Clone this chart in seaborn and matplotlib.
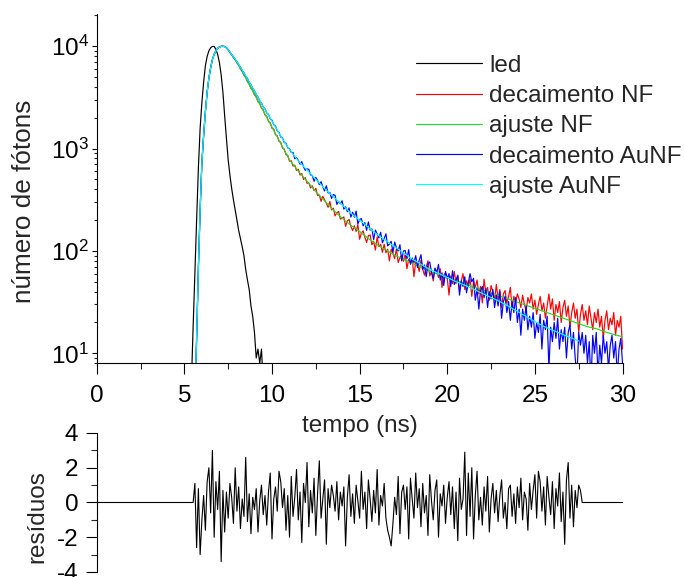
import numpy as np
import pandas as pd
import matplotlib
matplotlib.use("Agg")
import matplotlib.pyplot as plt
import seaborn as sns
from matplotlib.ticker import MultipleLocator, LogLocator, NullFormatter

# ---------------- data (photon counts, channel width 0.1 ns) ----------------
DT = 0.1
led_t0 = 5.4
led_counts = [5, 18, 60, 200, 646, 1585, 2820, 4470, 6460, 7940,
              9020, 9660, 9950, 9950, 9330, 8320, 6920, 5250, 3550, 2090,
              1260, 776, 550, 407, 316, 251, 200, 158, 132, 110,
              90, 66, 52, 42, 29, 23, 16, 9, 11, 8, 11, 5]

dec_t0 = 5.5
decay_nf = [2, 4, 15, 66, 256, 718,
            1372, 2263, 3590, 4862, 6230,
            7342, 8391, 8950, 9588, 9760,
            10052, 9934, 9958, 9602, 9311,
            8640, 8297, 7698, 7402, 6851,
            6523, 5968, 5689, 5187, 4958,
            4490, 4286, 3867, 3712, 3341,
            3202, 2871, 2768, 2473, 2391,
            2132, 2066, 1838, 1791, 1579,
            1548, 1368, 1335, 1174, 1152,
            1012, 990, 871, 858, 752,
            760, 675, 689, 611, 628,
            551, 571, 499, 520, 458,
            463, 412, 433, 388, 409,
            348, 352, 305, 342, 316,
            293, 267, 304, 252, 262,
            220, 236, 243, 205, 208,
            215, 174, 197, 203, 174,
            158, 176, 155, 180, 130,
            150, 157, 136, 121, 141,
            143, 115, 124, 102, 137,
            110, 116, 97, 116, 96,
            104, 80, 104, 95, 84,
            105, 77, 86, 91, 79,
            94, 67, 83, 76, 85,
            56, 80, 75, 63, 81,
            66, 58, 70, 80, 57,
            63, 51, 67, 63, 55,
            67, 44, 58, 61, 54,
            37, 57, 48, 63, 48,
            57, 41, 51, 60, 42,
            51, 45, 53, 36, 50,
            44, 52, 38, 45, 31,
            53, 39, 44, 33, 46,
            40, 33, 47, 34, 42,
            28, 38, 41, 31, 36,
            44, 27, 36, 31, 38,
            34, 28, 37, 30, 26,
            35, 31, 38, 27, 33,
            24, 30, 36, 26, 31,
            22, 29, 38, 27, 34,
            21, 30, 25, 32, 20,
            28, 33, 23, 29, 18,
            25, 31, 22, 27, 16,
            24, 30, 21, 26, 19,
            29, 22, 17, 25, 20,
            27, 18, 23, 14, 21,
            26, 17, 22, 19, 25,
            15, 21, 18, 23, 11]

decay_aunf = [2, 4, 13, 70, 247, 731,
              1338, 2312, 3521, 4930, 6140,
              7455, 8290, 9061, 9475, 9860,
              9945, 10038, 9880, 9702, 9190,
              8790, 8262, 7921, 7418, 7112,
              6598, 6268, 5790, 5513, 5096,
              4834, 4437, 4211, 3862, 3667,
              3361, 3195, 2921, 2784, 2547,
              2441, 2233, 2151, 1962, 1889,
              1717, 1651, 1488, 1438, 1296,
              1265, 1148, 1124, 1019, 996,
              917, 916, 796, 815, 765,
              704, 746, 662, 613, 634,
              626, 554, 545, 479, 523,
              488, 444, 475, 423, 385,
              433, 368, 373, 326, 356,
              349, 285, 305, 289, 309,
              256, 270, 241, 263, 214,
              239, 214, 245, 183, 203,
              207, 176, 189, 159, 192,
              160, 164, 129, 160, 146,
              134, 152, 120, 132, 147,
              112, 117, 124, 97, 122,
              107, 100, 115, 80, 100,
              101, 84, 103, 74, 85,
              77, 90, 69, 81, 92,
              66, 73, 56, 75, 78,
              62, 54, 68, 61, 74,
              52, 61, 46, 63, 54,
              60, 45, 64, 47, 52,
              58, 37, 51, 45, 56,
              39, 49, 60, 50, 54,
              33, 43, 27, 41, 45,
              35, 43, 28, 40, 34,
              42, 28, 37, 29, 40,
              22, 32, 36, 25, 32,
              21, 32, 25, 35, 20,
              27, 15, 27, 21, 29,
              17, 23, 18, 25, 14,
              20, 16, 24, 11, 21,
              17, 23, 7, 18, 13,
              20, 14, 22, 11, 17,
              13, 18, 9, 16, 19,
              11, 16, 9, 6, 16,
              12, 16, 10, 15, 8,
              13, 5, 15, 10, 16,
              6, 12, 8, 15, 10,
              13, 7, 12, 15, 9,
              13, 6, 11, 14, 8]

# fitted curves: rise sampled every 0.1 ns from 5.6, tail every 0.5 ns from 7.5
fit_rise_t0 = 5.6
fit_tail_t0 = 7.5
fit_tail_dt = 0.5
fit_rise = [4, 14, 68, 251, 724, 1350, 2290, 3550, 4900, 6170,
            7410, 8320, 9020, 9510, 9820, 9980, 10000, 9910, 9660]
fit_nf_tail = [9230, 6920, 4900, 3390, 2340, 1620, 1120, 776, 603, 479,
               380, 309, 251, 209, 178, 155, 132, 115, 102, 91,
               83, 76, 69, 63, 58.9, 55.0, 51.3, 47.9, 44.7, 41.7,
               38.9, 36.3, 33.9, 31.6, 29.5, 27.5, 25.7, 24.0, 22.4, 20.9,
               19.5, 18.2, 17.4, 16.2, 15.3, 14.5]
fit_aunf_tail = [9230, 7080, 5130, 3630, 2570, 1860, 1320, 977, 759, 617,
                 501, 407, 339, 282, 234, 200, 170, 145, 126, 110,
                 95.5, 83.2, 74.1, 66.1, 60.3, 55.0, 50.1, 46.2, 42.2, 38.5,
                 35.1, 32.0, 28.8, 25.7, 22.9, 20.4, 18.4, 16.8, 15.5, 14.3,
                 13.2]

res_t0 = 5.5
residuals = [0.0, 1.1, -2.6, 0.8, -3.0, -1.0, 0.4, -1.6, 1.2, 2.0,
             -0.6, 3.0, -2.0, 1.2, -0.4, 1.8, -3.4, 0.7, -1.7, 0.6,
             -0.9, 1.1, 0.3, -1.2, 2.0, -0.5, 0.9, -1.5, 0.2, -0.8,
             2.6, -1.1, 0.5, -1.8, 0.3, -0.4, 0.8, -1.7, 0.1, 1.0,
             -0.7, 0.4, -1.3, 0.6, 1.7, -2.1, 0.2, 0.9, -0.5, 1.8,
             1.2, -0.3, 0.8, -1.6, 0.4, -2.0, 1.5, -0.8, 0.3, 1.9,
             -1.0, 0.6, -2.3, 1.1, 0.0, 2.3, -1.4, 0.7, -0.6, 1.4,
             -1.9, 0.5, 2.4, -0.9, 0.2, 1.3, -2.4, 0.8, -0.3, 1.0,
             0.4, -0.5, 1.2, -1.0, 0.6, -0.2, 0.9, -2.5, 0.3, 1.6,
             -0.8, 0.5, -1.2, 1.0, 0.1, -0.9, 1.8, -0.4, 0.6, -1.5,
             1.3, 0.2, -1.1, 0.7, -0.6, 1.9, -1.3, 0.4, -0.2, 1.1,
             -0.9, -1.6, -2.0, -2.5, -1.2, 0.3, -0.7, 1.5, -1.8, 0.6,
             1.0, -0.4, 0.9, -2.1, 1.4, 0.2, -0.9, 1.7, -0.3, 0.8,
             -1.4, 1.1, -0.6, 0.4, -1.9, 1.6, 0.1, -1.0, 0.7, 1.3,
             -2.0, 0.5, -0.2, 1.0, -1.2, 0.3, 1.2, -0.7, 0.9, -1.5,
             0.6, -2.2, 1.4, -0.4, 0.2, 2.9, -1.9, 1.7, -0.8, 2.0,
             -2.1, 0.4, 1.8, -1.0, 0.3, -1.3, 0.9, -0.5, 1.5, -1.7,
             0.2, 1.1, -0.6, 0.7, -1.1, 0.4, 1.3, -0.9, 0.0, -1.5,
             0.8, 1.0, -0.8, 0.5, -1.2, 0.9, -0.3, 1.4, -1.0, 0.6,
             0.2, -1.6, 1.1, -0.4, 0.7, 1.6, -0.9, 1.8, 1.2, -0.5,
             0.9, -1.3, 1.5, 0.3, -0.7, 1.2, -1.5, 0.8, -0.2, 1.7,
             -1.1, 0.6, -2.4, 1.3, 2.3, -0.9, 1.0, -1.4, 0.7, -0.3,
             1.0, 0.7, 0.0]

labels = ["led", "decaimento NF", "ajuste NF", "decaimento AuNF", "ajuste AuNF"]
colors = ["#000000", "#FF0000", "#22DD22", "#0000FF", "#00FFFF"]

# ---------------- build tables ----------------
def times(t0, step, n):
    return t0 + step * np.arange(n)

fit_t_rise = times(fit_rise_t0, DT, len(fit_rise))
series = [
    (times(led_t0, DT, len(led_counts)), np.array(led_counts, float)),
    (times(dec_t0, DT, len(decay_nf)), np.array(decay_nf, float)),
    (np.concatenate([fit_t_rise, times(fit_tail_t0, fit_tail_dt, len(fit_nf_tail))]),
     np.array(fit_rise + fit_nf_tail, float)),
    (times(dec_t0, DT, len(decay_aunf)), np.array(decay_aunf, float)),
    (np.concatenate([fit_t_rise, times(fit_tail_t0, fit_tail_dt, len(fit_aunf_tail))]),
     np.array(fit_rise + fit_aunf_tail, float)),
]

res_t = np.concatenate([[0.0], times(res_t0, DT, len(residuals)), [30.0]])
res_v = np.concatenate([[0.0], residuals, [0.0]])
df_res = pd.DataFrame({"t": res_t, "r": res_v})

# ---------------- style ----------------
sns.set_theme(style="ticks")
FONT = ["Liberation Sans", "DejaVu Sans"]
plt.rcParams["font.family"] = FONT
plt.rcParams["mathtext.fontset"] = "custom"
plt.rcParams["mathtext.rm"] = "Liberation Sans"
plt.rcParams["mathtext.it"] = "Liberation Sans:italic"
plt.rcParams["mathtext.bf"] = "Liberation Sans:bold"
plt.rcParams["axes.unicode_minus"] = False
FS = 17.5

fig = plt.figure(figsize=(6.85, 5.77), dpi=100)
axr = fig.add_axes([0.1412, 0.00867, 0.7676, 0.2409])
ax = fig.add_axes([0.1412, 0.3703, 0.7676, 0.6046])
axr.patch.set_visible(False)
ax.patch.set_visible(False)

LW = 0.85
handles = []
for (t, y), lab, col in zip(series, labels, colors):
    d = pd.DataFrame({"t": t, "y": y})
    sns.lineplot(data=d, x="t", y="y", ax=ax, color=col, linewidth=LW,
                 estimator=None, sort=False, legend=False)
    handles.append(plt.Line2D([], [], color=col, linewidth=LW))

ax.set_yscale("log")
ax.set_xlim(0, 30)
ax.set_ylim(10 ** 0.902, 10 ** 4.31)
ax.xaxis.set_major_locator(MultipleLocator(5))
ax.xaxis.set_minor_locator(MultipleLocator(2.5))
ax.yaxis.set_major_locator(LogLocator(base=10, numticks=10))
ax.yaxis.set_minor_locator(LogLocator(base=10, subs=np.arange(2, 10), numticks=20))
ax.yaxis.set_minor_formatter(NullFormatter())
sns.despine(ax=ax)
for s in ["left", "bottom"]:
    ax.spines[s].set_linewidth(0.8)
    ax.spines[s].set_color("black")
ax.tick_params(axis="x", which="major", direction="out", length=7.7, width=0.8,
               pad=7.8, labelsize=FS, colors="black")
ax.tick_params(axis="x", which="minor", direction="out", length=4.3, width=0.8)
ax.tick_params(axis="y", which="major", direction="out", length=3.4, width=0.8,
               pad=2, labelsize=FS, colors="black")
ax.tick_params(axis="y", which="minor", direction="out", length=2.2, width=0.8)
ax.set_xlabel("tempo (ns)", fontsize=FS, labelpad=6)
ax.set_ylabel("número de fótons", fontsize=18.8)
ax.yaxis.set_label_coords(-0.116, 0.4645)

ax.legend(handles, labels, loc="upper left", bbox_to_anchor=(0.608, 0.905),
          bbox_transform=fig.transFigure, frameon=False, fontsize=FS,
          handlelength=2.68, handletextpad=0.3, labelspacing=0.34,
          borderpad=0, borderaxespad=0)

# residuals panel
sns.lineplot(data=df_res, x="t", y="r", ax=axr, color="black", linewidth=0.8,
             estimator=None, sort=False, legend=False)
axr.set_xlim(0, 30)
axr.set_ylim(-4, 4)
axr.yaxis.set_major_locator(MultipleLocator(2))
axr.yaxis.set_minor_locator(MultipleLocator(1))
axr.set_xticks([])
axr.set_xlabel("")
sns.despine(ax=axr, bottom=True)
axr.spines["left"].set_linewidth(0.8)
axr.spines["left"].set_color("black")
axr.tick_params(axis="y", which="major", direction="out", length=7.7, width=0.8,
                pad=5.5, labelsize=FS, colors="black")
axr.tick_params(axis="y", which="minor", direction="out", length=4.3, width=0.8)
axr.set_ylabel("resíduos", fontsize=FS)
axr.yaxis.set_label_coords(-0.091, 0.40)

fig.savefig("out.png", dpi=100)
